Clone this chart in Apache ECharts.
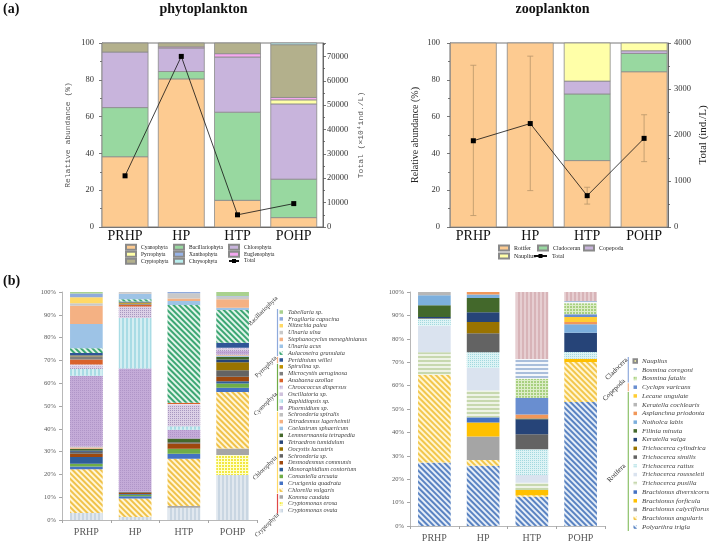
<!DOCTYPE html>
<html><head><meta charset="utf-8">
<script src="https://cdn.jsdelivr.net/npm/echarts/dist/echarts.min.js"></script>
<style>html,body{margin:0;padding:0;background:#fff}#c{width:709px;height:543px}</style>
</head><body><div id="c"></div>
<script>
// ---------- categories ----------
const sites = ['PRHP', 'HP', 'HTP', 'POHP'];
const sitePos = [1, 2, 3, 4];

// ---------- (a) phytoplankton phyla, relative abundance (%) ----------
const phytoPhyla = ['Cyanophyta', 'Bacillariophyta', 'Chlorophyta', 'Pyrrophyta', 'Xanthophyta', 'Euglenophyta', 'Cryptophyta', 'Chrysophyta'];
const phytoCyanophyta      = [38.2, 80.5, 14.5, 5.1];
const phytoBacillariophyta = [26.7, 4.0, 47.9, 20.9];
const phytoChlorophyta     = [30.2, 12.8, 30.0, 40.9];
const phytoPyrrophyta      = [0, 0, 0, 2.2];
const phytoXanthophyta     = [0, 0, 0, 0];
const phytoEuglenophyta    = [0, 0.6, 1.8, 1.3];
const phytoCryptophyta     = [4.9, 2.1, 5.8, 28.7];
const phytoChrysophyta     = [0, 0, 0, 0.9];
const phytoTotal = [21000, 70000, 5000, 9600];

// ---------- (a) zooplankton groups ----------
const zooGroups = ['Rotifer', 'Cladoceran', 'Copepoda', 'Nauplius'];
const zooRotifer    = [100, 100, 36.1, 84.4];
const zooCladoceran = [0, 0, 36.2, 9.9];
const zooCopepoda   = [0, 0, 7.0, 1.5];
const zooNauplius   = [0, 0, 20.7, 4.2];
const zooTotal     = [1875, 2249, 681, 1927];
const zooTotalLow  = [249, 791, 498, 1421];
const zooTotalHigh = [3516, 3714, 864, 2440];

// ---------- (b) phytoplankton species (bottom -> top of stack) ----------
const phytoSpecies = ['Cryptomonas ovata', 'Cryptomonas erosa', 'Komma caudata', 'Chlorella vulgaris', 'Crucigenia quadrata', 'Comasiella arcuata', 'Monoraphidium contortum', 'Desmodesmus communis', 'Schroederia sp.', 'Oocystis lacustris', 'Tetraedron tumidulum', 'Lemmermannia tetrapedia', 'Coelastrum sphaericum', 'Tetradesmus lagerheimii', 'Schroederia spiralis', 'Phormidium sp.', 'Raphidiopsis sp.', 'Oscillatoria sp.', 'Chroococcus dispersus', 'Anabaena azollae', 'Microcystis aeruginosa', 'Spirulina sp.', 'Peridinium willei', 'Aulacoseira granulata', 'Ulnaria acus', 'Stephanocyclus meneghinianus', 'Ulnaria ulna', 'Nitzschia palea', 'Fragilaria capucina', 'Tabellaria sp.'];
const phytoSpPRHP = [3.1, 0, 0, 19.2, 1.2, 1.2, 2.9, 1.5, 0.8, 0, 0.6, 0.8, 0, 0.5, 0.4, 31.1, 2.9, 1.2, 0.8, 2.2, 1.4, 0.3, 1.2, 2.0, 10.7, 8.0, 1.1, 2.6, 1.6, 0.7];
const phytoSpHP   = [1.3, 0, 0, 8.1, 1.0, 0.7, 0.3, 0.6, 0.4, 0, 0, 0, 0, 0, 0, 54.0, 22.2, 5.0, 0, 0.8, 0.4, 0.6, 0.4, 1.0, 2.5, 0.2, 0.5, 0, 0, 0];
const phytoSpHTP  = [5.4, 0, 0.7, 20.8, 2.2, 2.2, 0, 2.2, 0.6, 0, 0, 1.6, 0, 0, 0, 3.9, 1.5, 9.5, 0.3, 0.5, 0, 0, 0, 42.9, 1.8, 1.1, 2.2, 0, 0.6, 0];
const phytoSpPOHP = [19.7, 8.8, 2.9, 24.7, 1.9, 1.9, 1.0, 1.9, 2.9, 3.5, 1.2, 1.2, 0.3, 0.4, 0.3, 1.5, 0, 1.1, 0.3, 0, 0, 0, 2.2, 14.4, 1.0, 3.7, 1.2, 0, 0.3, 1.7];
const phytoSpGroups = [['Bacillariophyta', 0, 6], ['Pyrrophyta', 7, 7], ['Cyanophyta', 8, 14], ['Chlorophyta', 15, 26], ['Cryptophyta', 27, 29]];

// ---------- (b) zooplankton species (bottom -> top of stack) ----------
const zooSpecies = ['Polyarthra trigla', 'Brachionus angularis', 'Brachionus calyciflorus', 'Brachionus forficula', 'Brachionus diversicornis', 'Trichocerca pusilla', 'Trichocerca rousseleti', 'Trichocerca rattus', 'Trichocerca similis', 'Trichocerca cylindrica', 'Keratella valga', 'Filinia minuta', 'Notholca labis', 'Asplanchna priodonta', 'Keratella cochlearis', 'Lecane ungulate', 'Cyclops varicans', 'Bosmina fatalis', 'Bosmina coregoni', 'Nauplius'];
const zooSpPRHP = [27.1, 37.5, 0, 0, 0, 9.7, 11.3, 3.0, 0.3, 0, 0.4, 5.0, 4.3, 0, 1.4, 0, 0, 0, 0, 0];
const zooSpHP   = [25.8, 2.4, 10.0, 6.0, 2.3, 11.4, 9.6, 6.8, 8.1, 4.8, 4.1, 6.1, 1.5, 1.1, 0, 0, 0, 0, 0, 0];
const zooSpHTP  = [12.5, 0.6, 0, 2.3, 0, 3.1, 3.3, 11.0, 6.4, 0, 6.4, 0.3, 0, 1.8, 0, 0, 7.1, 8.1, 8.5, 28.6];
const zooSpPOHP = [53.0, 17.1, 0, 1.4, 0, 0, 0, 2.9, 0, 0, 8.2, 0, 3.6, 1.0, 0, 2.1, 1.2, 4.7, 1.0, 3.8];
const zooSpGroups = [['Cladocera', 0, 2], ['Copepoda', 3, 3], ['Rotifera', 4, 19]];

// ---------- styles ----------
const phytoColors = ['#FDCB91', '#98D8A0', '#C8B4DC', '#FFFFA8', '#98B4E8', '#F5A8F0', '#B3B08C', '#B8EEEE'];
const zooColors = ['#FDCB91', '#98D8A0', '#C8B4DC', '#FFFFA8'];
const diag = c => ({symbol: 'rect', symbolSize: 1, color: c, dashArrayX: [1, 0], dashArrayY: [2, 2], rotation: Math.PI / 4});
const vstr = c => ({symbol: 'rect', symbolSize: 1, color: c, dashArrayX: [2, 2], dashArrayY: [1, 0]});
const hstr = c => ({symbol: 'rect', symbolSize: 1, color: c, dashArrayX: [1, 0], dashArrayY: [2, 2]});
const dots = c => ({symbol: 'rect', symbolSize: 1, color: c, dashArrayX: [1, 1], dashArrayY: [1, 1]});
const grid2 = c => ({symbol: 'rect', symbolSize: 1, color: c, dashArrayX: [2, 1], dashArrayY: [2, 1]});
const phytoSpStyle = [
  ['#C9D6E2', vstr('rgba(255,255,255,0.45)')], ['#FFFFD0', grid2('#F2E840')], ['#A6A6A6'], ['#FFF6D8', diag('#F0C24A')],
  ['#4472C4'], ['#70AD47'], ['#2F5D9A'], ['#9E480E'], ['#636363'], ['#997300'], ['#264478'], ['#43682B'],
  ['#9DC3E6'], ['#F4B183'], ['#BFBFBF'], ['#C4ABD8', dots('#B096C8')], ['#A9DCE5', vstr('rgba(255,255,255,0.5)')],
  ['#DCD0E6', dots('#A898C0')], ['#E4DCEE', grid2('#C0B0D8')], ['#D9622B'], ['#7F7F7F'], ['#BF9000'], ['#2F5597'],
  ['#E2F4EA', diag('#3CA673')], ['#9DC3E6'], ['#F4B183'], ['#C9C9C9'], ['#FFD966'], ['#8FAADC'], ['#A9D18E']
];
const zooSpStyle = [
  ['#E6EEF8', diag('#5A83C2')], ['#FFF6D2', diag('#F2C64C')], ['#A5A5A5'], ['#FFC000'], ['#4472C4'],
  ['#EEF3E6', hstr('#C7D8AE')], ['#DAE3EF'], ['#DDF3F5', dots('#A3D9DF')], ['#636363'], ['#997300'],
  ['#264478'], ['#43682B'], ['#7CAFDD'], ['#F1975A'], ['#B7B7B7'], ['#FFCD33'], ['#698ED0'],
  ['#DDEDC8', grid2('#A8D080')], ['#F4F7FB', hstr('#A9BEDB')], ['#D8B4B8', vstr('rgba(255,255,255,0.35)')]
];
const SERIF = 'Liberation Serif';
const BAR_A_WIDTH = 46;

const xy = vals => vals.map((v, i) => [sitePos[i], v]);
const siteLabel = v => { const i = Math.round(v); return (Math.abs(v - i) < 1e-6 && i >= 1 && i <= sites.length) ? sites[i - 1] : ''; };
// stacked segments [x, base, top] for layer k of a list of layers
const stackSeg = (layers, k) => layers[k].map((v, i) => {
  let base = 0; for (let j = 0; j < k; j++) base += layers[j][i];
  return [sitePos[i], base, base + v];
});
const renderStackBar = (params, api) => {
  const x = api.value(0), b = api.value(1), t = api.value(2);
  if (!(t > b)) return null;
  const p0 = api.coord([x, b]), p1 = api.coord([x, t]);
  return {type: 'rect', shape: {x: p0[0] - BAR_A_WIDTH / 2, y: p1[1], width: BAR_A_WIDTH, height: p0[1] - p1[1]},
    style: api.style()};
};

const series = [];
// (a) phytoplankton stacked bars
const phytoLayers = [phytoCyanophyta, phytoBacillariophyta, phytoChlorophyta, phytoPyrrophyta, phytoXanthophyta, phytoEuglenophyta, phytoCryptophyta, phytoChrysophyta];
phytoLayers.forEach((vals, k) => series.push({
  type: 'custom', name: phytoPhyla[k], xAxisIndex: 0, yAxisIndex: 0, z: 2,
  data: stackSeg(phytoLayers, k), encode: {x: 0, y: [1, 2]}, renderItem: renderStackBar,
  itemStyle: {color: phytoColors[k], borderColor: '#8A8A8A', borderWidth: 0.8}
}));
series.push({type: 'line', name: 'Total', xAxisIndex: 0, yAxisIndex: 1, data: xy(phytoTotal), z: 5,
  symbol: 'rect', symbolSize: 5, itemStyle: {color: '#000'}, lineStyle: {color: '#111', width: 0.8}});
// (a) zooplankton stacked bars
const zooLayers = [zooRotifer, zooCladoceran, zooCopepoda, zooNauplius];
zooLayers.forEach((vals, k) => series.push({
  type: 'custom', name: zooGroups[k], xAxisIndex: 1, yAxisIndex: 2, z: 2,
  data: stackSeg(zooLayers, k), encode: {x: 0, y: [1, 2]}, renderItem: renderStackBar,
  itemStyle: {color: zooColors[k], borderColor: '#8A8A8A', borderWidth: 0.8}
}));
series.push({type: 'custom', name: 'err', xAxisIndex: 1, yAxisIndex: 3, z: 4,
  data: zooTotal.map((v, i) => [sitePos[i], zooTotalLow[i], zooTotalHigh[i]]),
  encode: {x: 0, y: [1, 2]},
  renderItem: (params, api) => {
    const x = api.value(0);
    const p1 = api.coord([x, api.value(1)]), p2 = api.coord([x, api.value(2)]);
    const st = {stroke: '#B8956A', lineWidth: 0.8}, hw = 3;
    return {type: 'group', children: [
      {type: 'line', shape: {x1: p1[0], y1: p1[1], x2: p2[0], y2: p2[1]}, style: st},
      {type: 'line', shape: {x1: p1[0] - hw, y1: p1[1], x2: p1[0] + hw, y2: p1[1]}, style: st},
      {type: 'line', shape: {x1: p2[0] - hw, y1: p2[1], x2: p2[0] + hw, y2: p2[1]}, style: st}
    ]};
  }});
series.push({type: 'line', name: 'Total', xAxisIndex: 1, yAxisIndex: 3, data: xy(zooTotal), z: 5,
  symbol: 'rect', symbolSize: 5, itemStyle: {color: '#000'}, lineStyle: {color: '#111', width: 0.8}});
// (b) phytoplankton species
phytoSpecies.forEach((name, i) => {
  const st = phytoSpStyle[i];
  series.push({type: 'bar', name, xAxisIndex: 2, yAxisIndex: 4, stack: 'phyB', barWidth: '67%',
    data: [phytoSpPRHP[i], phytoSpHP[i], phytoSpHTP[i], phytoSpPOHP[i]],
    itemStyle: st[1] ? {color: st[0], decal: st[1]} : {color: st[0]}});
});
// (b) zooplankton species
zooSpecies.forEach((name, i) => {
  const st = zooSpStyle[i];
  series.push({type: 'bar', name, xAxisIndex: 3, yAxisIndex: 5, stack: 'zooB', barWidth: '67%',
    data: [zooSpPRHP[i], zooSpHP[i], zooSpHTP[i], zooSpPOHP[i]],
    itemStyle: st[1] ? {color: st[0], decal: st[1]} : {color: st[0]}});
});

// ---------- axes ----------
const aLine = {show: true, lineStyle: {color: '#555', width: 0.8}};
const xA = (gi, max) => ({type: 'value', gridIndex: gi, min: 0.59, max, splitNumber: 4, axisLine: aLine,
  axisTick: {show: false}, splitLine: {show: false},
  axisLabel: {formatter: siteLabel, fontFamily: SERIF, fontSize: 14, color: '#111', margin: 2, showMinLabel: true, showMaxLabel: true}});
const yPct = (gi, name, nameFont, margin) => ({type: 'value', gridIndex: gi, min: 0, max: 100, interval: 20, position: 'left',
  name, nameLocation: 'middle', nameGap: 30, nameTextStyle: nameFont,
  axisLine: aLine, axisTick: {show: true, length: 3, lineStyle: {color: '#555', width: 0.8}},
  minorTick: {show: true, splitNumber: 2, length: 2, lineStyle: {color: '#555', width: 0.8}},
  axisLabel: {fontFamily: SERIF, fontSize: 8.5, color: '#333', margin}, splitLine: {show: false}});
const bX = gi => ({type: 'category', gridIndex: gi, data: sites,
  axisLine: {show: true, lineStyle: {color: '#A6A6A6', width: 0.8}}, axisTick: {show: true, length: 3, lineStyle: {color: '#A6A6A6'}},
  axisLabel: {fontFamily: SERIF, fontSize: 10, color: '#595959', margin: 7}});
const bY = gi => ({type: 'value', gridIndex: gi, min: 0, max: 100, interval: 10,
  axisLine: {show: true, lineStyle: {color: '#A6A6A6', width: 0.8}}, axisTick: {show: true, length: 3, lineStyle: {color: '#A6A6A6'}},
  axisLabel: {formatter: '{value}%', fontFamily: SERIF, fontSize: 6.5, color: '#595959', margin: 6}, splitLine: {show: false}});

const xAxis = [xA(0, 4.52), xA(1, 4.42), bX(2), bX(3)];
const yAxis = [
  yPct(0, 'Relative abundance (%)', {fontFamily: 'Liberation Mono', fontSize: 8, color: '#555'}, 8),
  {type: 'value', gridIndex: 0, min: 0, max: 75500, interval: 10000, position: 'right',
    name: 'Total (×10⁴ind./L)', nameLocation: 'middle', nameGap: 34, nameTextStyle: {fontFamily: 'Liberation Mono', fontSize: 8, color: '#555'},
    axisLine: aLine, axisTick: {show: true, length: 3, lineStyle: {color: '#555', width: 0.8}},
    minorTick: {show: true, splitNumber: 2, length: 2, lineStyle: {color: '#555', width: 0.8}},
    axisLabel: {formatter: v => (v % 10000 === 0 ? String(v) : ''), fontFamily: SERIF, fontSize: 8.5, color: '#333', margin: 4}, splitLine: {show: false}},
  yPct(1, 'Relative abundance (%)', {fontFamily: SERIF, fontSize: 10, color: '#222'}, 10),
  {type: 'value', gridIndex: 1, min: 0, max: 4000, interval: 1000, position: 'right',
    name: 'Total (ind./L)', nameLocation: 'middle', nameGap: 30, nameTextStyle: {fontFamily: SERIF, fontSize: 11, color: '#222'},
    axisLine: aLine, axisTick: {show: true, length: 3, lineStyle: {color: '#555', width: 0.8}},
    minorTick: {show: true, splitNumber: 2, length: 2, lineStyle: {color: '#555', width: 0.8}},
    axisLabel: {formatter: v => String(v), fontFamily: SERIF, fontSize: 8.5, color: '#333', margin: 6}, splitLine: {show: false}},
  bY(2), bY(3)
];

// ---------- legends ----------
const legA = (left, top, names, lh, fs, iw) => ({left, top, orient: 'vertical', padding: 0, itemGap: 0, itemWidth: iw, itemHeight: 5,
  selectedMode: false, data: names.map(n => (n === 'Total' ? {name: n} : {name: n, icon: 'rect'})),
  textStyle: {fontFamily: SERIF, fontSize: fs, lineHeight: lh, color: '#222'}});
const legB = (left, top, names, lh, fs) => ({left, top, orient: 'vertical', padding: 0, itemGap: 0, itemWidth: 3.5, itemHeight: 3.5,
  icon: 'rect', selectedMode: false, data: names,
  textStyle: {fontFamily: SERIF, fontStyle: 'italic', fontSize: fs, lineHeight: lh, color: '#444'}});
const legend = [
  legA(125, 243.7, [phytoPhyla[0], phytoPhyla[3], phytoPhyla[6]], 6.6, 5.5, 10),
  legA(173, 243.7, [phytoPhyla[1], phytoPhyla[4], phytoPhyla[7]], 6.6, 5.5, 10),
  legA(228, 243.7, [phytoPhyla[2], phytoPhyla[5], 'Total'], 6.6, 5.5, 10),
  legA(498, 244, [zooGroups[0], zooGroups[3]], 8, 6, 10),
  legA(537, 244, [zooGroups[1]], 8, 6, 10),
  legA(583, 244, [zooGroups[2]], 8, 6, 10),
  legA(533, 252, ['Total'], 8, 6, 13),
  legB(279.5, 308.6, phytoSpecies.slice().reverse(), 6.85, 6.3),
  legB(632.5, 356.6, zooSpecies.slice().reverse(), 8.74, 7)
];

// ---------- decorations: panel letters, titles, group brackets ----------
const graphic = [
  {type: 'text', x: 3, y: 2, style: {text: '(a)', font: 'bold 14px "Liberation Serif"', fill: '#111'}},
  {type: 'text', x: 3, y: 274, style: {text: '(b)', font: 'bold 14px "Liberation Serif"', fill: '#111'}},
  {type: 'text', x: 203.5, y: 9, style: {text: 'phytoplankton', font: 'bold 14px "Liberation Serif"', fill: '#111', align: 'center', verticalAlign: 'middle'}},
  {type: 'text', x: 552.5, y: 9, style: {text: 'zooplankton', font: 'bold 14px "Liberation Serif"', fill: '#111', align: 'center', verticalAlign: 'middle'}}
];
const groupColors = {Bacillariophyta: '#8FAADC', Pyrrophyta: '#F4B183', Cyanophyta: '#70AD47', Chlorophyta: '#FFD966', Cryptophyta: '#E04848',
  Cladocera: '#8FAADC', Copepoda: '#F4B183', Rotifera: '#8CC168'};
function brackets(groups, y0, step, lineX, labelCenters, fs) {
  groups.forEach(([g, a, b], k) => {
    graphic.push({type: 'line', shape: {x1: lineX, y1: y0 + step * a - step / 2 + 0.4, x2: lineX, y2: y0 + step * b + step / 2 - 0.4},
      style: {stroke: groupColors[g], lineWidth: 1.2}});
    const c = labelCenters[k];
    graphic.push({type: 'text', x: c[0], y: c[1], rotation: Math.PI / 4,
      style: {text: g, font: fs + 'px "Liberation Serif"', fill: '#333', align: 'center', verticalAlign: 'middle'}});
  });
}
brackets(phytoSpGroups, 312, 6.85, 277.5, [[263, 311], [266, 367], [265.5, 404], [265, 468], [267, 525]], 6.3);
brackets(zooSpGroups, 361, 8.74, 628.3, [[616.5, 369], [614, 390], [616.5, 473]], 7);

const chart = echarts.init(document.getElementById('c'), null, {renderer: 'canvas'});
chart.setOption({
  animation: false,
  backgroundColor: '#fff',
  grid: [
    {left: 102, top: 43, width: 221, height: 184, show: true, borderColor: '#555', borderWidth: 0.8, containLabel: false, outerBoundsMode: 'none'},
    {left: 450, top: 43, width: 218, height: 184, show: true, borderColor: '#555', borderWidth: 0.8, containLabel: false, outerBoundsMode: 'none'},
    {left: 62, top: 292, width: 195, height: 228, containLabel: false, outerBoundsMode: 'none'},
    {left: 410, top: 292, width: 195, height: 234, containLabel: false, outerBoundsMode: 'none'}
  ],
  xAxis, yAxis, legend, series, graphic,
  tooltip: {show: false}
});
</script>
</body></html>
